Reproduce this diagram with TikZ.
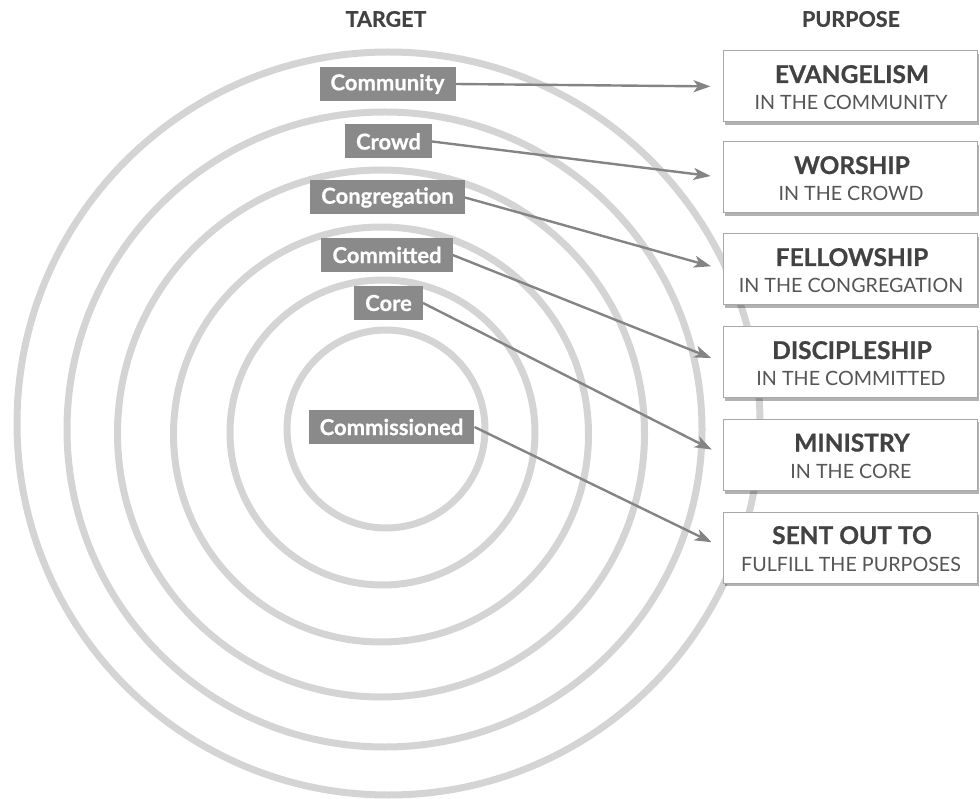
\documentclass[tikz,border=0pt]{standalone}
\usepackage{fontspec}
\setmainfont{Lato}[BoldFeatures={FakeBold=0.7}]
\usetikzlibrary{arrows.meta,shadows}
\definecolor{ringgray}{HTML}{D4D4D4}
\definecolor{labgray}{HTML}{8A8A8A}
\definecolor{arrgray}{HTML}{848484}
\definecolor{headgray}{HTML}{424242}
\definecolor{subgray}{HTML}{555555}
\definecolor{boxline}{HTML}{A8A8A8}
\tikzset{
  ring/.style={draw=ringgray, line width=7pt},
  lab/.style={fill=labgray, text=white, font=\fontsize{22}{26}\selectfont\bfseries,
    inner xsep=11pt, inner ysep=0pt, minimum height=34pt},
  head/.style={text=headgray, font=\fontsize{21.5}{25}\selectfont\bfseries},
  pbox/.style={draw=boxline, line width=1pt, fill=white, minimum width=254pt, minimum height=71pt,
    drop shadow={shadow xshift=2pt, shadow yshift=-3pt, fill=black, opacity=0.3}},
  ptitle/.style={anchor=base, text=headgray, font=\fontsize{24.5}{28}\selectfont\bfseries, inner sep=0pt},
  psub/.style={anchor=base, text=subgray, font=\fontsize{19.7}{24}\selectfont, inner sep=0pt},
  arr/.style={draw=arrgray, line width=2.4pt, -{Stealth[length=17pt,width=12pt,inset=4.5pt]}, shorten >=12pt}
}
\begin{document}
\begin{tikzpicture}[x=1pt,y=-1pt]
\useasboundingbox (0,0) rectangle (980,799);
% rings
\draw[ring] (388.5,423.5) circle[radius=371.5];
\draw[ring] (384.5,429.5) circle[radius=317.5];
\draw[ring] (381,433.5) circle[radius=263.5];
\draw[ring] (381,434.5) circle[radius=207.5];
\draw[ring] (382.5,432.5) circle[radius=152.5];
\draw[ring] (386,429) circle[radius=99];
% headings
\node[head] (target) at (386,19) {TARGET};
\node[head] (purpose) at (851,19) {PURPOSE};
% labels
\node[lab] (l1) at (387.5,84) {Community};
\node[lab] (l2) at (388.5,141.5) {Crowd};
\node[lab] (l3) at (387.5,197.5) {Congregation};
\node[lab] (l4) at (387,255) {Committed};
\node[lab] (l5) at (388.5,303) {Core};
\node[lab] (l6) at (391.5,427) {Commissioned};
% purpose boxes
\node[pbox] (b1) at (850,86.5) {};
\node[pbox] (b2) at (850,177.5) {};
\node[pbox] (b3) at (850,269.5) {};
\node[pbox] (b4) at (850,362.5) {};
\node[pbox] (b5) at (850,455) {};
\node[pbox] (b6) at (850,547.5) {};
\node[ptitle] (t1) at (852,83) {EVANGELISM};
\node[psub] (s1) at (851,110) {IN THE COMMUNITY};
\node[ptitle] (t2) at (852,174) {WORSHIP};
\node[psub] (s2) at (851,201) {IN THE CROWD};
\node[ptitle] (t3) at (852,266) {FELLOWSHIP};
\node[psub] (s3) at (851,293) {IN THE CONGREGATION};
\node[ptitle] (t4) at (852,359) {DISCIPLESHIP};
\node[psub] (s4) at (851,386) {IN THE COMMITTED};
\node[ptitle] (t5) at (852,451.5) {MINISTRY};
\node[psub] (s5) at (851,478.5) {IN THE CORE};
\node[ptitle] (t6) at (852,544) {SENT OUT TO};
\node[psub] (s6) at (851,571) {FULFILL THE PURPOSES};
% arrows
\draw[arr] (l1.east) -- (b1.west);
\draw[arr] (l2.east) -- (b2.west);
\draw[arr] (l3.east) -- (b3.west);
\draw[arr] (l4.east) -- (b4.west);
\draw[arr] (l5.east) -- (b5.west);
\draw[arr] (l6.east) -- (b6.west);
\end{tikzpicture}
\end{document}
